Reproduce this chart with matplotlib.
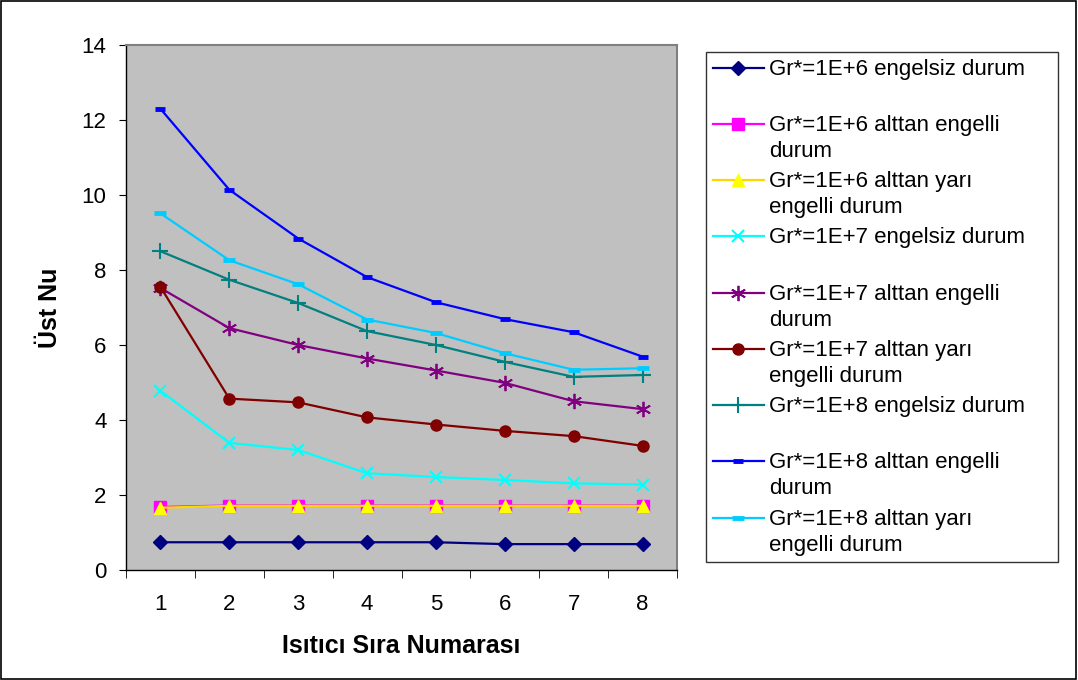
import matplotlib
matplotlib.use("Agg")
import numpy as np
import matplotlib.pyplot as plt
from matplotlib.patches import Rectangle
from matplotlib.lines import Line2D
from matplotlib.legend_handler import HandlerLine2D

plt.rcParams['font.family'] = ['Liberation Sans', 'DejaVu Sans']

x = [1, 2, 3, 4, 5, 6, 7, 8]
labels = [
    "Gr*=1E+6 engelsiz durum\n ",
    "Gr*=1E+6 alttan engelli\ndurum",
    "Gr*=1E+6 alttan yarı\nengelli durum",
    "Gr*=1E+7 engelsiz durum\n ",
    "Gr*=1E+7 alttan engelli\ndurum",
    "Gr*=1E+7 alttan yarı\nengelli durum",
    "Gr*=1E+8 engelsiz durum\n ",
    "Gr*=1E+8 alttan engelli\ndurum",
    "Gr*=1E+8 alttan yarı\nengelli durum",
]
s1 = [0.74, 0.74, 0.74, 0.74, 0.74, 0.69, 0.69, 0.69]
s2 = [1.68, 1.72, 1.72, 1.72, 1.72, 1.72, 1.72, 1.72]
s3 = [1.66, 1.71, 1.71, 1.71, 1.71, 1.71, 1.71, 1.71]
s4 = [4.78, 3.39, 3.20, 2.58, 2.48, 2.40, 2.31, 2.28]
s5 = [7.52, 6.45, 6.00, 5.64, 5.32, 4.99, 4.50, 4.29]
s6 = [7.55, 4.57, 4.47, 4.07, 3.88, 3.71, 3.57, 3.31]
s7 = [8.50, 7.74, 7.12, 6.37, 6.00, 5.55, 5.15, 5.20]
s8 = [12.30, 10.14, 8.84, 7.81, 7.14, 6.69, 6.34, 5.69]
s9 = [9.51, 8.26, 7.62, 6.68, 6.32, 5.78, 5.34, 5.38]
series = [s1, s2, s3, s4, s5, s6, s7, s8, s9]

styles = [
    dict(color='#000080', marker='D', ms=7, mec='#000080', mfc='#000080'),
    dict(color='#FF00FF', marker='s', ms=8, mec='#FF00FF', mfc='#FF00FF'),
    dict(color='#FFD700', marker='^', ms=9, mec='#FFFF00', mfc='#FFFF00'),
    dict(color='#00FFFF', marker='x', ms=9, mew=1.5, mec='#00FFFF'),
    dict(color='#800080', marker=(6, 2, 0), ms=11, mew=1.3, mec='#800080'),
    dict(color='#800000', marker='o', ms=8, mec='#800000', mfc='#800000'),
    dict(color='#008080', marker='+', ms=11, mew=1.5, mec='#008080'),
    dict(color='#0000FF', marker='_', ms=7, mew=3.5, mec='#0000FF'),
    dict(color='#00CCFF', marker='_', ms=9, mew=3.5, mec='#00CCFF'),
]

LEG_FS = 16
LINESP = 1.32


class TopLineHandler(HandlerLine2D):
    """Align the legend sample with the first text line (Excel style)."""
    def create_artists(self, legend, orig_handle, xdescent, ydescent, width,
                       height, fontsize, trans):
        arts = super().create_artists(legend, orig_handle, xdescent, ydescent,
                                      width, height, fontsize, trans)
        shift = 0.5 * LINESP * fontsize
        for a in arts:
            a.set_ydata(np.asarray(a.get_ydata(), dtype=float) + shift)
        return arts


fig = plt.figure(figsize=(10.78, 6.8), dpi=100)
fig.patches.append(Rectangle((0.001, 0.001), 0.997, 0.997, transform=fig.transFigure,
                             fill=False, edgecolor='black', linewidth=1.2))
ax = fig.add_axes([126 / 1078, 1 - 570 / 680, 551 / 1078, 525 / 680])
ax.set_facecolor('#C0C0C0')

for ys, lab, st in zip(series, labels, styles):
    ax.plot(x, ys, label=lab, linewidth=1.6, **st)

ax.set_xlim(0.5, 8.5)
ax.set_ylim(0, 14)
ax.set_yticks(range(0, 15, 2))
ax.set_xticks(x)
ax.set_xticks([i + 0.5 for i in range(0, 9)], minor=True)
ax.tick_params(axis='x', which='major', length=0, labelsize=16, pad=17)
ax.tick_params(axis='x', which='minor', length=6, direction='out')
ax.tick_params(axis='y', which='major', length=5, direction='out', labelsize=16, pad=9)

for side in ['top', 'right']:
    ax.spines[side].set_color('#808080')
    ax.spines[side].set_linewidth(1.5)
for side in ['left', 'bottom']:
    ax.spines[side].set_color('black')
    ax.spines[side].set_linewidth(1.0)

ax.set_xlabel('Isıtıcı Sıra Numarası', fontsize=18, fontweight='bold', labelpad=14)
ax.set_ylabel('Üst Nu', fontsize=18, fontweight='bold', labelpad=14)

top = 1 - 52 / 680
leg = fig.legend(loc='upper left', bbox_to_anchor=(706 / 1078, top - 0.2, 352 / 1078, 0.2),
                 mode='expand', fontsize=LEG_FS,
                 frameon=True, fancybox=False, edgecolor='black', handlelength=2.3,
                 handletextpad=0.25, labelspacing=0.41, borderpad=0.3,
                 borderaxespad=0, handler_map={Line2D: TopLineHandler()})
for t in leg.get_texts():
    t.set_linespacing(LINESP)
leg.get_frame().set_linewidth(1.0)

fig.savefig('out.png', dpi=100)
